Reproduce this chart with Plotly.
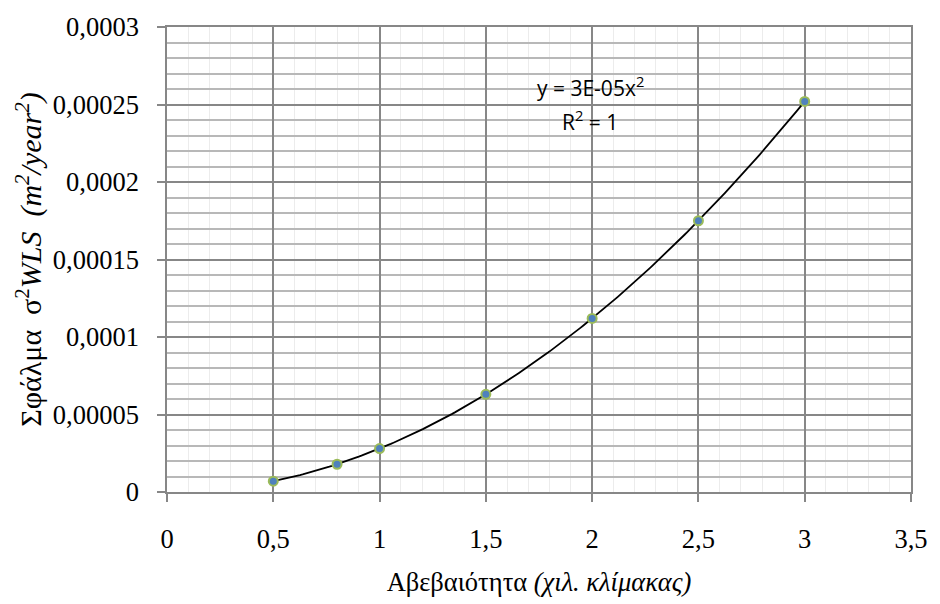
import numpy as np
import plotly.graph_objects as go

# Data
uncertainty = [0.5, 0.8, 1.0, 1.5, 2.0, 2.5, 3.0]
error_wls = [0.000007, 0.0000179, 0.000028, 0.000063, 0.000112, 0.000175, 0.000252]

eq_text = "y = 3E-05x<sup>2</sup>"
r2_text = "R<sup>2</sup> = 1"

x_title = "Αβεβαιότητα <i>(χιλ. κλίμακας)</i>"
y_title = "Σφάλμα\u00a0\u00a0σ<sup>2</sup><i>WLS\u00a0\u00a0(m<sup>2</sup>/year<sup>2</sup>)</i>"

# Power (x^2) trendline fitted by least squares through the origin
xa = np.array(uncertainty)
ya = np.array(error_wls)
coef = float(np.sum(xa**2 * ya) / np.sum(xa**4))
xt = np.linspace(xa.min(), xa.max(), 200)
yt = coef * xt**2

MAJOR = "#878787"
MINOR_H = "#b8b8b8"
MINOR_V = "#ececec"
SERIF = "Liberation Serif, DejaVu Serif, serif"

fig = go.Figure()
fig.add_trace(go.Scatter(x=xt, y=yt, mode="lines",
                         line=dict(color="black", width=1.8),
                         hoverinfo="skip", showlegend=False))
fig.add_trace(go.Scatter(x=uncertainty, y=error_wls, mode="markers",
                         marker=dict(size=9, color="#4f81bd",
                                     line=dict(color="#9bbb59", width=2)),
                         showlegend=False))

fig.add_annotation(x=1.99, y=0.0002615, text=eq_text, showarrow=False,
                   font=dict(family="Open Sans", size=21, color="black"),
                   xanchor="center", yanchor="middle")
fig.add_annotation(x=1.99, y=0.000240, text=r2_text, showarrow=False,
                   font=dict(family="Open Sans", size=21, color="black"),
                   xanchor="center", yanchor="middle")

axis_common = dict(
    showline=True, linecolor=MAJOR, linewidth=1.5, mirror=True,
    ticks="outside", tickcolor=MAJOR, tickwidth=1.5, ticklen=8,
    showgrid=True, gridcolor=MAJOR, gridwidth=1.5,
    zeroline=False,
    tickfont=dict(family=SERIF, size=26.5, color="black"),
)

fig.update_xaxes(range=[0, 3.5], dtick=0.5, tick0=0, tickformat=".1~f",
                 minor=dict(dtick=0.1, showgrid=True, gridcolor=MINOR_V,
                            gridwidth=1, ticks=""),
                 ticklabelstandoff=14,
                 title=dict(text=x_title, font=dict(family=SERIF, size=26.5, color="black"),
                            standoff=20),
                 **axis_common)
fig.update_yaxes(range=[0, 0.0003], dtick=0.00005, tick0=0, tickformat=".5~f",
                 minor=dict(dtick=0.00001, showgrid=True, gridcolor=MINOR_H,
                            gridwidth=1.5, ticks=""),
                 ticklabelstandoff=13,
                 title=dict(text=y_title, font=dict(family=SERIF, size=30, color="black"),
                            standoff=2),
                 **axis_common)

fig.update_layout(
    width=940, height=604,
    margin=dict(l=167, r=20, t=21, b=106),
    paper_bgcolor="white", plot_bgcolor="white",
    separators=",.",
    showlegend=False,
)

fig.write_html("out.html")
